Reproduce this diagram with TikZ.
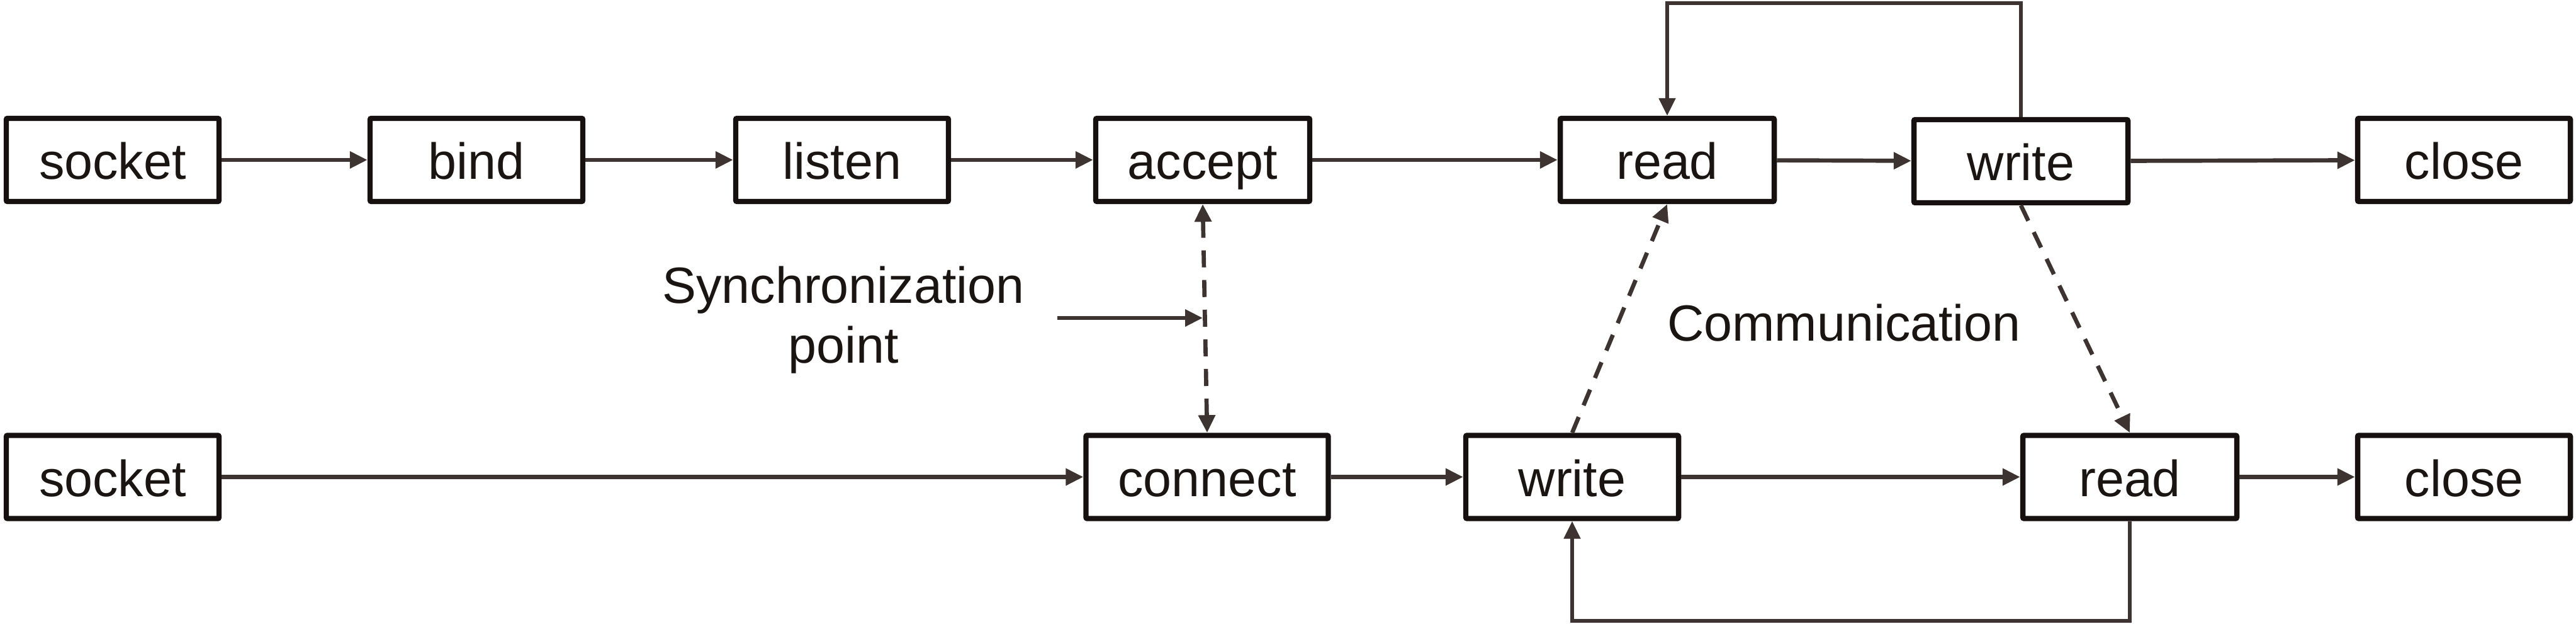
\documentclass[tikz,border=0pt]{standalone}
\usepackage{fontspec}
\setmainfont{Liberation Sans}
\usepackage{tikz}
\usetikzlibrary{arrows.meta,positioning,calc}
\usepackage{xcolor}
\definecolor{boxline}{HTML}{161110}
\definecolor{linkcol}{HTML}{3D3331}
\definecolor{textcol}{HTML}{1A1512}

\begin{document}
\begin{tikzpicture}[
  x=1cm,y=1cm,
  every node/.style={font=\fontsize{23}{27}\selectfont,text=textcol},
  callbox/.style={draw=boxline,line width=2.4pt,rounded corners=0.6pt,minimum width=3.38cm,
    minimum height=1.32cm,text height=0.62cm,text depth=0cm,inner sep=0pt},
  link/.style={draw=linkcol,line width=1.9pt,-{Triangle[length=2.8mm,width=2.6mm]}},
  looplink/.style={link,line width=1.5pt},
  dlink/.style={link,dash pattern=on 7.7pt off 5.7pt},
  note/.style={inner sep=0pt,align=center}
]
\useasboundingbox (0,0) rectangle (40.93,9.91);
\node[callbox] (sock1) at (1.79,7.37) {socket};
\node[callbox] (bind) at (7.57,7.37) {bind};
\node[callbox] (listen) at (13.38,7.37) {listen};
\node[callbox,minimum width=3.40cm] (acc) at (19.11,7.37) {accept};
\node[callbox,minimum width=3.40cm] (rd1) at (26.49,7.37) {read};
\node[callbox,minimum width=3.40cm] (wr1) at (32.11,7.35) {write};
\node[callbox] (close1) at (39.15,7.37) {close};
\node[callbox] (sock2) at (1.79,2.335) {socket};
\node[callbox,minimum width=3.85cm] (con) at (19.18,2.335) {connect};
\node[callbox] (wr2) at (24.98,2.335) {write};
\node[callbox,minimum width=3.40cm] (rd2) at (33.84,2.335) {read};
\node[callbox] (close2) at (39.15,2.335) {close};
\draw[link] (sock1) -- (bind);
\draw[link] (bind) -- (listen);
\draw[link] (listen) -- (acc);
\draw[link] (acc) -- (rd1);
\draw[link] (rd1) -- (wr1);
\draw[link] (wr1) -- (close1);
\draw[link] (sock2) -- (con);
\draw[link] (con) -- (wr2);
\draw[link] (wr2) -- (rd2);
\draw[link] (rd2) -- (close2);
\coordinate (looptop) at (0,9.86);
\coordinate (loopbot) at (0,0.05);
\draw[looplink] (wr1.north) |- (looptop -| rd1.north) -- (rd1.north);
\draw[looplink] (rd2.south) |- (loopbot -| wr2.south) -- (wr2.south);
\draw[dlink,{Triangle[length=2.8mm,width=2.6mm]}-{Triangle[length=2.8mm,width=2.6mm]}] (acc.south) -- (con.north);
\draw[dlink] (wr2.north) -- (rd1.south);
\draw[dlink] (wr1.south) -- (rd2.north);
\node[note] (sync) at (13.40,4.83) {Synchronization\\point};
\coordinate (syncfrom) at (16.80,4.86);
\draw[link] (syncfrom) -- (syncfrom -| acc.south);
\node[note,anchor=base] (comm) at (29.30,4.49) {Communication};
\end{tikzpicture}
\end{document}
